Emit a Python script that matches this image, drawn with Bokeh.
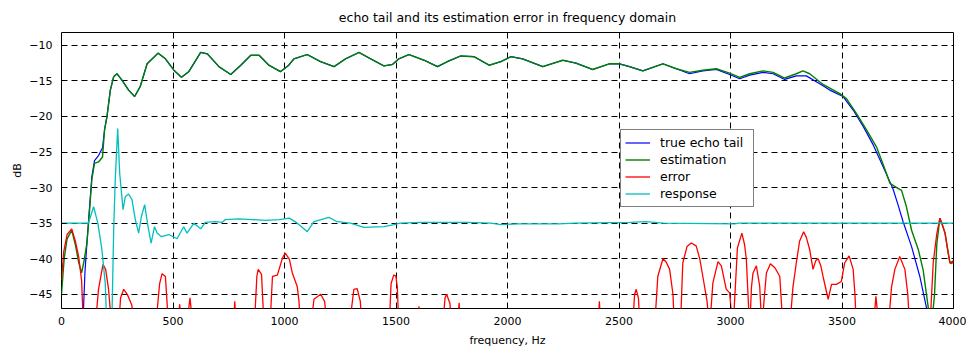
from bokeh.plotting import figure
from bokeh.models import Range1d, FixedTicker, Legend, LegendItem
from bokeh.embed import file_html
from bokeh.resources import INLINE

# ---- data (frequency in Hz, level in dB) ----
true_freq = [95, 105, 114, 124, 136, 148, 166, 184, 193, 204, 219, 234, 249, 271, 301,
             328, 353, 384, 433, 466, 504, 538, 571, 624, 654, 706, 759, 804, 849, 886,
             930, 982, 1019, 1042, 1102, 1162, 1222, 1274, 1334, 1386, 1446, 1484, 1513,
             1558, 1626, 1686, 1730, 1790, 1850, 1918, 1970, 2015, 2068, 2158, 2248, 2307,
             2382, 2457, 2502, 2547, 2607, 2697, 2757, 2816, 2876, 2936, 2996, 3041, 3086,
             3146, 3191, 3243, 3295, 3340, 3400, 3445, 3505, 3550, 3595, 3640, 3685, 3715,
             3730, 3750, 3774, 3812, 3849, 3879, 3900]
true_db = [-50.0, -42.0, -37.8, -33.5, -28.5, -26.2, -25.5, -24.4, -21.9, -20.0, -16.3,
           -14.4, -14.0, -14.9, -16.3, -17.2, -15.8, -12.6, -11.1, -11.9, -13.5, -14.5,
           -13.7, -11.0, -11.2, -13.0, -14.1, -12.8, -11.4, -11.4, -12.8, -13.7, -12.8,
           -11.9, -11.3, -12.3, -13.0, -11.9, -11.0, -11.9, -12.9, -12.7, -11.9, -11.3,
           -12.1, -13.0, -12.3, -11.5, -11.6, -12.8, -12.3, -11.6, -11.9, -13.0, -12.1,
           -12.5, -13.4, -12.6, -12.6, -13.0, -13.6, -12.6, -13.3, -14.0, -13.6, -13.4,
           -14.1, -14.7, -14.2, -13.8, -14.0, -14.8, -14.3, -14.3, -15.4, -16.3, -17.2,
           -19.1, -21.4, -24.0, -27.1, -29.2, -30.3, -32.3, -34.8, -38.3, -42.5, -46.9, -50.0]

est_freq = [0, 12, 25, 46, 62, 77, 90, 100, 114, 124, 136, 148, 166, 184, 193, 204, 219,
            234, 249, 271, 301, 328, 353, 384, 433, 466, 504, 538, 571, 624, 654, 706, 759,
            804, 849, 886, 930, 982, 1019, 1042, 1102, 1162, 1222, 1274, 1334, 1386, 1446,
            1484, 1513, 1558, 1626, 1686, 1730, 1790, 1850, 1918, 1970, 2015, 2068, 2158,
            2248, 2307, 2382, 2457, 2502, 2547, 2607, 2697, 2757, 2816, 2876, 2936, 2996,
            3041, 3086, 3146, 3191, 3243, 3295, 3325, 3355, 3415, 3490, 3520, 3565, 3610,
            3655, 3685, 3715, 3745, 3767, 3789, 3812, 3842, 3864, 3887, 3900, 3915, 3925,
            3939, 3962, 3984, 4000]
est_db = [-45.0, -40.0, -37.2, -36.0, -38.0, -40.5, -42.0, -40.5, -37.8, -34.0, -28.9,
          -26.6, -26.4, -25.7, -21.9, -20.0, -16.3, -14.4, -14.0, -14.9, -16.3, -17.2,
          -15.8, -12.6, -11.1, -11.9, -13.5, -14.5, -13.7, -11.0, -11.2, -13.0, -14.1,
          -12.8, -11.4, -11.4, -12.8, -13.7, -12.8, -11.9, -11.3, -12.3, -13.0, -11.9,
          -11.0, -11.9, -12.9, -12.7, -11.9, -11.3, -12.1, -13.0, -12.3, -11.5, -11.6,
          -12.8, -12.3, -11.6, -11.9, -13.0, -12.1, -12.5, -13.4, -12.6, -12.6, -13.0,
          -13.6, -12.6, -13.3, -13.8, -13.5, -13.3, -13.9, -14.5, -14.0, -13.6, -13.8,
          -14.6, -14.0, -13.6, -14.0, -15.5, -16.8, -17.5, -19.6, -21.9, -24.3, -26.8,
          -29.4, -30.0, -30.4, -32.7, -36.0, -38.7, -41.6, -46.9, -50.0, -45.0, -38.0,
          -34.3, -36.4, -40.6, -40.3]

err_freq = [0, 10, 25, 46, 62, 77, 90, 99, 150, 166, 186, 198, 211, 226, 255, 265, 279,
            295, 315, 331, 421, 440, 451, 466, 481, 519, 530, 540, 560, 576, 591, 770,
            777, 784, 864, 876, 882, 897, 909, 934, 946, 968, 991, 1003, 1022, 1035, 1057,
            1065, 1072, 1117, 1132, 1162, 1180, 1192, 1289, 1311, 1326, 1340, 1349, 1469,
            1478, 1490, 1499, 1506, 1513, 1598, 1603, 1608, 1708, 1720, 1727, 1742, 1750,
            1775, 1783, 1791, 2405, 2412, 2419, 2560, 2570, 2577, 2587, 2595, 2659, 2674,
            2697, 2712, 2727, 2742, 2749, 2775, 2786, 2805, 2824, 2846, 2862, 2876, 2895,
            2906, 2921, 2944, 2959, 2981, 2996, 3011, 3020, 3031, 3051, 3063, 3071, 3086,
            3094, 3101, 3116, 3131, 3141, 3150, 3161, 3179, 3200, 3221, 3236, 3265, 3280,
            3295, 3310, 3328, 3340, 3355, 3370, 3382, 3393, 3405, 3415, 3438, 3453, 3475,
            3497, 3512, 3532, 3550, 3558, 3565, 3640, 3652, 3667, 3707, 3722, 3737, 3759,
            3782, 3795, 3804, 3894, 3909, 3925, 3939, 3950, 3962, 3975, 3984, 3992, 4000]
err_db = [-43.0, -39.0, -36.6, -35.8, -37.5, -39.7, -43.0, -50.0, -50.0, -44.3, -40.8,
          -41.5, -44.3, -50.0, -50.0, -45.5, -44.3, -45.0, -46.5, -50.0, -50.0, -43.5,
          -42.1, -42.5, -50.0, -50.0, -46.4, -50.0, -50.0, -45.5, -50.0, -50.0, -46.0,
          -50.0, -50.0, -42.5, -41.5, -42.2, -50.0, -50.0, -42.5, -42.3, -39.9, -39.2,
          -40.1, -42.0, -43.9, -46.0, -50.0, -50.0, -45.7, -45.0, -46.0, -50.0, -50.0,
          -44.3, -44.2, -46.0, -50.0, -50.0, -43.5, -42.3, -42.4, -44.0, -50.0, -50.0,
          -46.7, -50.0, -50.0, -45.5, -45.0, -46.3, -50.0, -50.0, -46.2, -50.0, -50.0,
          -46.0, -50.0, -50.0, -45.0, -44.3, -45.5, -50.0, -50.0, -42.5, -40.0, -40.5,
          -41.5, -45.0, -50.0, -50.0, -40.6, -38.3, -37.8, -38.2, -40.0, -42.5, -46.0,
          -50.0, -43.4, -40.4, -41.0, -44.3, -44.8, -50.0, -45.0, -38.5, -36.4, -38.0,
          -40.1, -50.0, -44.0, -42.0, -41.0, -43.9, -50.0, -46.0, -42.0, -40.7, -41.3,
          -42.5, -50.0, -50.0, -44.0, -40.6, -37.5, -36.2, -37.0, -38.7, -41.5, -40.3,
          -40.0, -41.0, -42.5, -45.7, -43.6, -43.6, -43.2, -40.6, -39.6, -41.5, -45.0,
          -50.0, -50.0, -45.3, -50.0, -50.0, -44.0, -41.5, -39.7, -41.5, -45.0, -50.0,
          -50.0, -40.6, -36.5, -34.3, -35.2, -36.4, -39.0, -40.6, -40.7, -40.3]

resp_freq = [0, 121, 144, 163, 181, 196, 201, 206, 224, 234, 241, 252, 261, 276, 286, 301,
             316, 331, 346, 358, 373, 388, 402, 417, 429, 448, 481, 518, 548, 563, 594,
             624, 645, 690, 720, 735, 796, 857, 916, 977, 1022, 1057, 1080, 1102, 1132,
             1199, 1236, 1296, 1356, 1446, 1491, 1520, 1611, 1820, 1925, 1970, 2050, 2232,
             2300, 2550, 2620, 2700, 3020, 3035, 4000]
resp_db = [-35.0, -35.0, -32.7, -35.0, -38.7, -43.4, -47.5, -52.0, -52.0, -35.9, -28.9,
           -21.7, -28.0, -33.1, -31.3, -30.9, -31.7, -34.5, -36.4, -34.1, -32.4, -35.5,
           -37.8, -35.5, -36.4, -36.9, -36.6, -37.2, -35.5, -36.4, -35.0, -35.8, -34.9,
           -34.8, -34.9, -34.5, -34.4, -34.5, -34.6, -34.5, -34.3, -35.0, -35.6, -36.2,
           -34.8, -34.2, -34.8, -35.0, -35.6, -35.5, -35.2, -35.0, -34.9, -34.9, -35.0,
           -35.2, -35.1, -35.1, -35.0, -34.9, -34.8, -35.0, -35.1, -35.0, -35.0]

x_ticks = [0, 500, 1000, 1500, 2000, 2500, 3000, 3500, 4000]
y_ticks = [-45, -40, -35, -30, -25, -20, -15, -10]

series_names = ["true echo tail", "estimation", "error", "response"]
series_colors = ["#0000ff", "#008000", "#ff0000", "#00bfbf"]

FONT = "DejaVu Sans"

p = figure(width=966, height=349, output_backend="svg", toolbar_location=None,
           x_range=Range1d(0, 4000), y_range=Range1d(-47.0, -8.2),
           min_border_left=61, min_border_right=13, min_border_top=32,
           min_border_bottom=40)
p.background_fill_color = "white"
p.border_fill_color = "white"
p.outline_line_color = "#000000"
p.outline_line_width = 1

p.title.text = "echo tail and its estimation error in frequency domain"
p.title.align = "center"
p.title.text_font = FONT
p.title.text_font_size = "12.5px"
p.title.text_font_style = "normal"
p.title.text_color = "#000000"
p.title.standoff = 15

# dashed grid
for g in (p.xgrid[0], p.ygrid[0]):
    g.grid_line_color = "#000000"
    g.grid_line_dash = "6 4"
    g.grid_line_width = 1
p.xgrid[0].ticker = FixedTicker(ticks=x_ticks)
p.ygrid[0].ticker = FixedTicker(ticks=y_ticks)

def style_axis(ax, ticks):
    ax.ticker = FixedTicker(ticks=ticks)
    ax.axis_line_color = None
    ax.major_tick_in = 5
    ax.major_tick_out = 0
    ax.minor_tick_line_color = None
    ax.major_tick_line_color = "#000000"
    ax.major_label_text_font = FONT
    ax.major_label_text_font_size = "11px"
    ax.major_label_text_color = "#000000"
    ax.axis_label_text_font = FONT
    ax.axis_label_text_font_size = "11px"
    ax.axis_label_text_font_style = "normal"
    ax.axis_label_text_color = "#000000"

xa = p.xaxis[0]
style_axis(xa, x_ticks)
xa.major_label_standoff = 8
xa.axis_label = "frequency, Hz"
xa.axis_label_standoff = 6

ya = p.yaxis[0]
style_axis(ya, y_ticks)
ya.major_label_standoff = 9
ya.axis_label = "dB"
ya.axis_label_standoff = 2

# curves (estimate drawn over the true tail)
r_true = p.line(true_freq, true_db, line_color=series_colors[0], line_width=1.2)
r_est = p.line(est_freq, est_db, line_color=series_colors[1], line_width=1.4)
r_err = p.line(err_freq, err_db, line_color=series_colors[2], line_width=1.3)
r_resp = p.line(resp_freq, resp_db, line_color=series_colors[3], line_width=1.3)

legend = Legend(items=[LegendItem(label=n, renderers=[r])
                       for n, r in zip(series_names, [r_true, r_est, r_err, r_resp])],
                location=(559, 101))
legend.label_text_font = FONT
legend.label_text_font_size = "12.5px"
legend.label_text_color = "#000000"
legend.border_line_color = "#000000"
legend.border_line_width = 1
legend.background_fill_color = "white"
legend.background_fill_alpha = 1
legend.padding = 4
legend.spacing = 0
legend.margin = 0
legend.glyph_width = 25
legend.glyph_height = 17
legend.label_height = 17
legend.label_width = 89
legend.label_standoff = 10
p.add_layout(legend, "center")

open("out.html", "w").write(file_html(p, INLINE))
